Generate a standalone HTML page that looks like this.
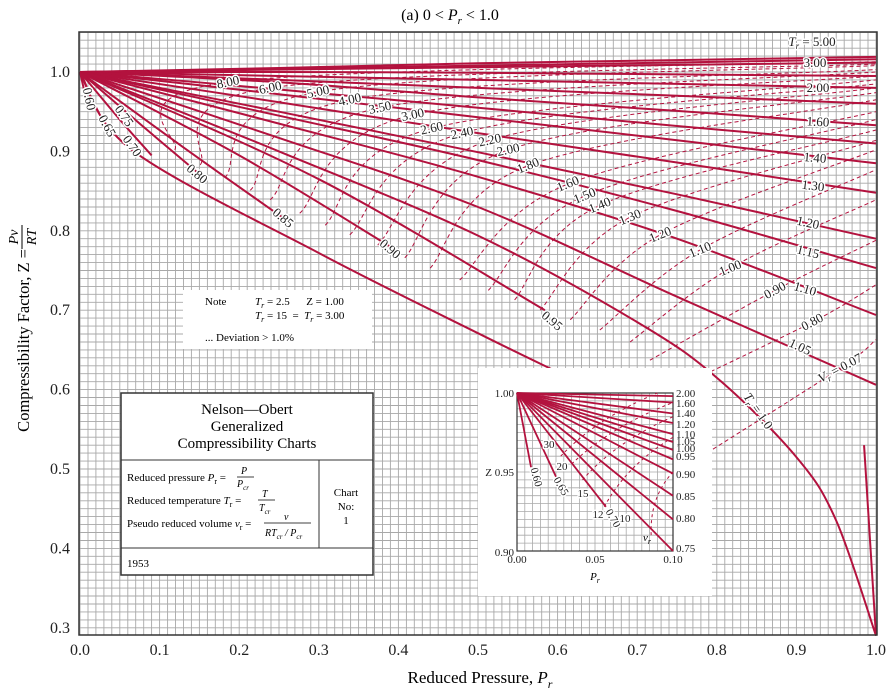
<!DOCTYPE html>
<html><head><meta charset="utf-8"><style>
html,body{margin:0;padding:0;background:#fff}
svg{display:block}
text{font-family:"Liberation Serif",serif}
.lbl{font-size:13px;fill:#222;stroke:#fff;stroke-width:3px;paint-order:stroke;stroke-linejoin:round}
</style></head><body>
<svg id="chart" width="891" height="690" viewBox="0 0 891 690">
<g id="grid"></g>
<g id="curves"></g>
<g id="labels"></g>
<g id="axes"></g>
<g id="inset"></g>
<text x="450" y="20" font-size="16" text-anchor="middle">(a) 0 &lt; <tspan font-style="italic">P</tspan><tspan font-style="italic" font-size="11" dy="4">r</tspan><tspan dy="-4"> &lt; 1.0</tspan></text>
<text x="480" y="683" font-size="17" text-anchor="middle">Reduced Pressure, <tspan font-style="italic">P</tspan><tspan font-style="italic" font-size="12" dy="5">r</tspan></text>
<g transform="translate(24,335) rotate(-90)">
<text x="86" y="5" font-size="16.5" text-anchor="end">Compressibility Factor, Z = </text>
<text x="98" y="-6" font-size="14" text-anchor="middle" font-style="italic">Pv</text>
<line x1="86" y1="-2" x2="110" y2="-2" stroke="#000" stroke-width="1"/>
<text x="98" y="12" font-size="14" text-anchor="middle" font-style="italic">RT</text>
</g>
<g>
<rect x="183" y="290" width="189" height="59" fill="#fff"/>
<text x="205" y="305" font-size="11">Note</text>
<text x="255" y="305" font-size="11"><tspan font-style="italic">T</tspan><tspan font-size="8" dy="3" font-style="italic">r</tspan><tspan dy="-3"> = 2.5 &#160;&#160;&#160;&#160; Z = 1.00</tspan></text>
<text x="255" y="319" font-size="11"><tspan font-style="italic">T</tspan><tspan font-size="8" dy="3" font-style="italic">r</tspan><tspan dy="-3"> = 15 &#160;= &#160;</tspan><tspan font-style="italic">T</tspan><tspan font-size="8" dy="3" font-style="italic">r</tspan><tspan dy="-3"> = 3.00</tspan></text>
<text x="205" y="341" font-size="11">... Deviation &gt; 1.0%</text>
</g>
<g>
<rect x="121" y="393" width="252" height="182" fill="#fff" stroke="#333" stroke-width="1.5"/>
<line x1="121" y1="460" x2="373" y2="460" stroke="#333"/>
<line x1="319" y1="460" x2="319" y2="548" stroke="#333"/>
<line x1="121" y1="548" x2="373" y2="548" stroke="#333"/>
<text x="247" y="414" font-size="15" text-anchor="middle">Nelson—Obert</text>
<text x="247" y="431" font-size="15" text-anchor="middle">Generalized</text>
<text x="247" y="448" font-size="15" text-anchor="middle">Compressibility Charts</text>
<text x="127" y="481" font-size="11">Reduced pressure <tspan font-style="italic">P</tspan><tspan font-size="8" dy="3">r</tspan><tspan dy="-3"> = </tspan></text>
<text x="241" y="474" font-size="10" font-style="italic">P</text><line x1="237" y1="477" x2="254" y2="477" stroke="#000" stroke-width="0.8"/><text x="237" y="487" font-size="10" font-style="italic">P<tspan font-size="7" dy="3">cr</tspan></text>
<text x="127" y="504" font-size="11">Reduced temperature <tspan font-style="italic">T</tspan><tspan font-size="8" dy="3">r</tspan><tspan dy="-3"> = </tspan></text>
<text x="262" y="497" font-size="10" font-style="italic">T</text><line x1="258" y1="500" x2="275" y2="500" stroke="#000" stroke-width="0.8"/><text x="259" y="511" font-size="10" font-style="italic">T<tspan font-size="7" dy="3">cr</tspan></text>
<text x="127" y="527" font-size="11">Pseudo reduced volume <tspan font-style="italic">v</tspan><tspan font-size="8" dy="3">r</tspan><tspan dy="-3"> = </tspan></text>
<text x="284" y="520" font-size="10" font-style="italic">v</text><line x1="264" y1="523" x2="311" y2="523" stroke="#000" stroke-width="0.8"/><text x="265" y="536" font-size="10" font-style="italic">RT<tspan font-size="7" dy="3">cr</tspan><tspan dy="-3"> / P</tspan><tspan font-size="7" dy="3">cr</tspan></text>
<text x="346" y="496" font-size="11" text-anchor="middle">Chart</text>
<text x="346" y="510" font-size="11" text-anchor="middle">No:</text>
<text x="346" y="524" font-size="11" text-anchor="middle">1</text>
<text x="127" y="567" font-size="11">1953</text>
</g>
</svg>
<script>
// ---------- data ----------
const trNames = ["5.00","4.00","3.00","2.50","2.00","1.80","1.60","1.50","1.40","1.30","1.20","1.15","1.10","1.05","1.00","0.95","0.90","0.85","0.80","0.75","0.70","0.65","0.60"];
const trPr = [
 [0,0.25,0.5,0.75,1],[0,0.25,0.5,0.75,1],[0,0.25,0.5,0.75,1],[0,0.25,0.5,0.75,1],[0,0.25,0.5,0.75,1],
 [0,0.25,0.5,0.75,1],[0,0.25,0.5,0.75,1],[0,0.25,0.5,0.75,1],[0,0.25,0.5,0.75,1],[0,0.25,0.5,0.75,1],
 [0,0.25,0.5,0.75,1],[0,0.25,0.5,0.75,1],[0,0.25,0.5,0.75,1],[0,0.25,0.5,0.75,1],
 [0,0.25,0.5,0.7,0.8,0.9,0.95,1],
 [0,0.3,0.584],[0,0.2,0.39],[0,0.13,0.254],[0,0.075,0.147],[0,0.05,0.09],
 [0,0.065,0.3,0.5,0.6],[0,0.012,0.024],[0,0.009]
];
const trZ = [
 [1,1.005,1.011,1.015,1.019],[1,1.004,1.008,1.012,1.016],[1,1.003,1.006,1.009,1.012],[1,1.0,0.999,0.997,0.995],[1,0.995,0.99,0.985,0.98],
 [1,0.99,0.98,0.97,0.96],[1,0.987,0.968,0.951,0.933],[1,0.978,0.955,0.932,0.91],[1,0.972,0.943,0.914,0.885],[1,0.962,0.923,0.886,0.848],
 [1,0.95,0.899,0.846,0.79],[1,0.945,0.889,0.825,0.753],[1,0.935,0.868,0.79,0.694],[1,0.917,0.83,0.717,0.606],
 [1,0.9,0.794,0.685,0.615,0.515,0.435,0.29],
 [1,0.865,0.70],[1,0.895,0.78],[1,0.905,0.817],[1,0.935,0.874],[1,0.94,0.895],
 [1,0.902,0.772,0.671,0.622],[1,0.972,0.948],[1,0.96]
];
const vrNames = ["8.00","6.00","5.00","4.00","3.50","3.00","2.60","2.40","2.20","2.00","1.80","1.60","1.50","1.40","1.30","1.20","1.10","1.00","0.90","0.80","0.07"];
const vrLabelPr = [.186,.239,.299,.339,.377,.418,.442,.480,.515,.538,.563,.613,.634,.653,.691,.729,.779,.817,.873,.920,.955];
const vrLabelZ  = [.987,.980,.975,.965,.955,.946,.929,.923,.914,.902,.882,.859,.844,.832,.817,.795,.776,.753,.725,.685,.627];
const vrRightZ  = [1.013,1.010,1.008,1.003,1.0,.995,.990,.985,.980,.974,.965,.950,.940,.927,.914,.902,.877,.839,.788,.732,.663];
const vrLeftPr  = [.119,.151,.182,.214,.239,.276,.308,.339,.374,.408,.440,.477,.513,.546,.578,.616,.653,.691,.716,.745,.773];
const vrLeftZ   = [.902,.883,.867,.851,.839,.822,.807,.795,.782,.766,.753,.738,.725,.713,.700,.688,.675,.660,.637,.600,.511];
const xTicks = ["0.0","0.1","0.2","0.3","0.4","0.5","0.6","0.7","0.8","0.9","1.0"];
const yTicks = ["1.0","0.9","0.8","0.7","0.6","0.5","0.4","0.3"];
// inset data
const inTr = ["2.00","1.60","1.40","1.20","1.10","1.05","1.00","0.95","0.90","0.85","0.80","0.75","0.70","0.65","0.60"];
const inEndPr = [0.1,0.1,0.1,0.1,0.1,0.1,0.1,0.1,0.1,0.1,0.1,0.1,0.057,0.025,0.009];
const inEndZ = [0.998,0.994,0.987,0.981,0.974,0.969,0.964,0.958,0.949,0.935,0.920,0.900,0.928,0.947,0.953];
const inVr = ["30","20","15","12","10"];
const inVrPr0 = [0.028,0.035,0.042,0.056,0.086];
const inVrZ0 = [0.96,0.955,0.945,0.928,0.91];
const inVrPr1 = [0.09,0.1,0.1,0.1,0.1];
const inVrZ1 = [1.0,0.994,0.985,0.972,0.95];

// ---------- scales ----------
const X0=80,X1=876,Y1=72,PY=794;
const sx=p=>X0+p*(X1-X0);
const sy=z=>Y1+(1-z)*PY;
const NS="http://www.w3.org/2000/svg";
const RED="#b3123e";
function mk(tag,attrs,parent){const e=document.createElementNS(NS,tag);for(const k in attrs)e.setAttribute(k,attrs[k]);parent.appendChild(e);return e;}

// grid
const grid=document.getElementById('grid');
mk('rect',{x:79,y:32,width:798,height:603,fill:'#fff'},grid);
let gp='';
for(let i=0;i<=100;i++){const x=sx(i/100);gp+=`M${x.toFixed(1)},32V635`;}
for(let j=-5;j<=71;j++){const y=sy(1-j/100);if(y>=32&&y<=635)gp+=`M79,${y.toFixed(1)}H877`;}
const gpath=mk('path',{d:gp,stroke:'#a8a8a8','stroke-width':0.9,fill:'none'},grid);



function smooth(pts){
  let d=`M${pts[0][0].toFixed(1)},${pts[0][1].toFixed(1)}`;
  for(let i=0;i<pts.length-1;i++){
    const p0=pts[Math.max(0,i-1)],p1=pts[i],p2=pts[i+1],p3=pts[Math.min(pts.length-1,i+2)];
    const c1=[p1[0]+(p2[0]-p0[0])/6,p1[1]+(p2[1]-p0[1])/6];
    const c2=[p2[0]-(p3[0]-p1[0])/6,p2[1]-(p3[1]-p1[1])/6];
    d+=`C${c1[0].toFixed(1)},${c1[1].toFixed(1)} ${c2[0].toFixed(1)},${c2[1].toFixed(1)} ${p2[0].toFixed(1)},${p2[1].toFixed(1)}`;
  }
  return d;
}
const curves=document.getElementById('curves');
vrNames.forEach((n,i)=>{
  const pts=[[sx(vrLeftPr[i]),sy(vrLeftZ[i])],[sx(vrLabelPr[i]),sy(vrLabelZ[i])],[sx(1),sy(vrRightZ[i])]];
  const p=mk('path',{d:smooth(pts),stroke:RED,'stroke-width':1,'stroke-dasharray':'4,3',fill:'none'},curves);
  
  
});
trNames.forEach((n,i)=>{
  const pts=trPr[i].map((p,k)=>[sx(p),sy(trZ[i][k])]);
  const p=mk('path',{d:smooth(pts),stroke:RED,'stroke-width':2,fill:'none'},curves);
  
  
});
const br=mk('path',{d:`M${sx(0.985)},${sy(0.53)}L${sx(1)},${sy(0.29)}`,stroke:RED,'stroke-width':2,fill:'none'},curves);



const labels=document.getElementById('labels');
const trLab=[["Tr = 5.00",812,46,0],["3.00",815,67,0],["2.00",818,92,0],["1.60",818,126,3],["1.40",815,162,5],["1.30",813,190,7],["1.20",808,227,12],["1.15",808,256,14],["1.10",805,293,16],["1.05",800,351,25],["Tr = 1.0",758,415,55],["0.95",552,325,40],["0.90",390,253,40],["0.85",283,222,40],["0.80",197,178,40],["0.75",124,120,55],["0.70",132,150,55],["0.65",107,130,62],["0.60",89,103,78]];
trLab.forEach(l=>{
  const t=mk('text',{x:l[1],y:l[2],class:'lbl','text-anchor':'middle',transform:`rotate(${l[3]} ${l[1]} ${l[2]-4})`},labels);
  if(l[0].startsWith('Tr')){t.innerHTML=`<tspan font-style="italic">T</tspan><tspan font-size="9" dy="3" font-style="italic">r</tspan><tspan dy="-3">${l[0].slice(2)}</tspan>`;}
  else t.textContent=l[0];
  
  
});
vrNames.forEach((n,i)=>{
  const x=sx(vrLabelPr[i]),y=sy(vrLabelZ[i])+4;
  const ang=i<10?-12:(i<18?-22:-28);
  const t=mk('text',{x:x,y:y,class:'lbl','text-anchor':'middle',transform:`rotate(${ang} ${x} ${y-4})`},labels);
  if(n==="0.07"){t.innerHTML=`<tspan font-style="italic">V</tspan><tspan font-size="9" dy="3" font-style="italic">r</tspan><tspan dy="-3"> = 0.07</tspan>`;t.setAttribute('font-size','11');}
  else t.textContent=n;
  
  
});

const axes=document.getElementById('axes');
mk('rect',{x:79,y:32,width:798,height:603,fill:'none',stroke:'#333','stroke-width':1.5},axes);
xTicks.forEach((t,i)=>{
  const e=mk('text',{x:sx(i/10),y:655,'font-size':16,'text-anchor':'middle',fill:'#222'},axes);
  e.textContent=t;
  
  
});
yTicks.forEach((t,i)=>{
  const e=mk('text',{x:70,y:sy(parseFloat(t))+5,'font-size':16,'text-anchor':'end',fill:'#222'},axes);
  e.textContent=t;
  
  
});

const ins=document.getElementById('inset');
mk('rect',{x:478,y:368,width:234,height:228,fill:'#fff'},ins);
const ix=p=>517+p/0.1*156, iy=z=>393+(1-z)/0.1*158;
let ig='';
for(let i=0;i<=20;i++){ig+=`M${ix(i*0.005).toFixed(1)},393V551`;ig+=`M517,${iy(1-i*0.005).toFixed(1)}H673`;}
const igp=mk('path',{d:ig,stroke:'#aaa','stroke-width':0.8,fill:'none'},ins);


mk('rect',{x:517,y:393,width:156,height:158,fill:'none',stroke:'#333','stroke-width':1.2},ins);
inVr.forEach((n,i)=>{
  const p=mk('path',{d:`M${ix(inVrPr0[i])},${iy(inVrZ0[i])}Q${ix((inVrPr0[i]+inVrPr1[i])/2-0.008)},${iy((inVrZ0[i]+inVrZ1[i])/2+0.004)} ${ix(inVrPr1[i])},${iy(inVrZ1[i])}`,stroke:RED,'stroke-width':1,'stroke-dasharray':'3,3',fill:'none'},ins);
  
  
});
inTr.forEach((n,i)=>{
  const p=mk('line',{x1:ix(0),y1:iy(1),x2:ix(inEndPr[i]),y2:iy(inEndZ[i]),stroke:RED,'stroke-width':1.8},ins);
  
  
});
const inRightY=[393,403,413,424,434,441,448,456,474,496,518,548];
inRightY.forEach((y,i)=>{
  const t=mk('text',{x:676,y:y+4,'font-size':11,fill:'#222'},ins);
  t.textContent=inTr[i];
  
  
});
[["0.70",610,520,60],["0.65",558,488,60],["0.60",533,478,75]].forEach(l=>{
  const t=mk('text',{x:l[1],y:l[2],class:'lbl','text-anchor':'middle',transform:`rotate(${l[3]} ${l[1]} ${l[2]})`},ins);
  t.setAttribute('style','font-size:11px');
  t.textContent=l[0];
  
  
});
[["30",549,448],["20",562,470],["15",583,497],["12",598,518],["10",625,522]].forEach(l=>{
  const t=mk('text',{x:l[1],y:l[2],class:'lbl','text-anchor':'middle'},ins);
  t.setAttribute('style','font-size:11px');
  t.textContent=l[0];
  
  
});
const vrt=mk('text',{x:643,y:541,'font-size':11,'font-style':'italic'},ins);vrt.innerHTML='v<tspan font-size="8" dy="3">r</tspan>';


[["1.00",514,397,'end'],["Z 0.95",514,476,'end'],["0.90",514,556,'end']].forEach(l=>{
  const t=mk('text',{x:l[1],y:l[2],'font-size':11,'text-anchor':l[3],fill:'#222'},ins);t.textContent=l[0];
  
  
});
[["0.00",517],["0.05",595],["0.10",673]].forEach(l=>{
  const t=mk('text',{x:l[1],y:563,'font-size':11,'text-anchor':'middle',fill:'#222'},ins);t.textContent=l[0];
  
  
});
const ipt=mk('text',{x:595,y:580,'font-size':11,'font-style':'italic','text-anchor':'middle'},ins);ipt.innerHTML='P<tspan font-size="8" dy="3">r</tspan>';


</script>
</body></html>
